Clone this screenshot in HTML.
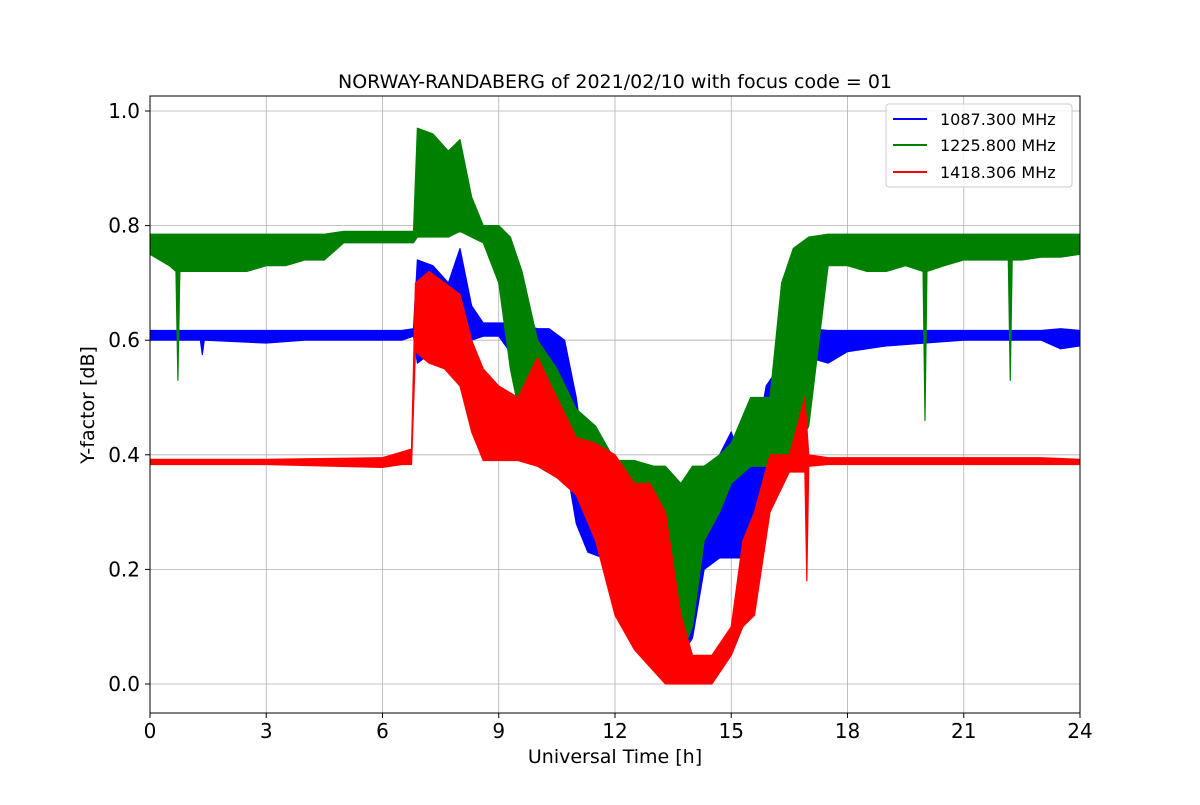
<!DOCTYPE html>
<html><head><meta charset="utf-8"><style>
body{margin:0;background:#fff;}
svg{font-family:"DejaVu Sans","Liberation Sans",sans-serif;}
</style></head><body>
<svg id="chart" width="1200" height="800" xmlns="http://www.w3.org/2000/svg">
<rect width="1200" height="800" fill="#fff"/>
<g id="grid"></g>
<g id="series" clip-path="url(#clip)"></g>
<defs><clipPath id="clip"><rect x="150" y="96" width="930" height="617"/></clipPath></defs>
<rect x="150" y="96" width="930" height="617" fill="none" stroke="#000" stroke-width="1"/>
<g id="ticks"></g>
<text x="615" y="88" text-anchor="middle" font-size="19">NORWAY-RANDABERG of 2021/02/10 with focus code = 01</text>
<text x="615" y="763" text-anchor="middle" font-size="19">Universal Time [h]</text>
<text transform="translate(94,405) rotate(-90)" text-anchor="middle" font-size="19">Y-factor [dB]</text>
<g>
<rect x="886" y="104" width="186" height="83" rx="3" fill="#fff" fill-opacity="0.8" stroke="#ccc"/>
<g><line x1="893" x2="927" y1="119" y2="119" stroke="#0000ff" stroke-width="2"/><text x="940" y="125" font-size="16">1087.300 MHz</text></g>
<g><line x1="893" x2="927" y1="145" y2="145" stroke="#008000" stroke-width="2"/><text x="940" y="151" font-size="16">1225.800 MHz</text></g>
<g><line x1="893" x2="927" y1="172" y2="172" stroke="#ff0000" stroke-width="2"/><text x="940" y="178" font-size="16">1418.306 MHz</text></g>
</g>
</svg>
<script>
const xTicks=[0,3,6,9,12,15,18,21,24];
const yTicks=[0.0,0.2,0.4,0.6,0.8,1.0];
const yTickLabels=["0.0","0.2","0.4","0.6","0.8","1.0"];
const blueT=[0,1.3,1.35,1.4,3,4,6.5,6.8,6.9,7.3,7.7,8,8.3,8.6,9,9.5,10,10.3,10.7,11,11.3,11.7,12,12.3,12.7,13,13.3,13.7,14,14.3,14.7,15,15.3,15.6,15.9,16.2,16.5,16.8,17,17.5,18,19,20,21,22,23,23.5,24];
const blueLo=[0.6,0.6,0.575,0.6,0.595,0.6,0.6,0.607,0.56,0.58,0.55,0.56,0.6,0.607,0.607,0.56,0.5,0.47,0.4,0.28,0.23,0.22,0.22,0.2,0.15,0.08,0.02,0.05,0.08,0.2,0.22,0.22,0.22,0.25,0.3,0.38,0.37,0.5,0.57,0.56,0.58,0.59,0.595,0.6,0.6,0.6,0.585,0.59];
const blueHi=[0.617,0.617,0.617,0.617,0.617,0.617,0.617,0.62,0.74,0.73,0.7,0.76,0.66,0.63,0.63,0.63,0.62,0.62,0.6,0.5,0.35,0.36,0.38,0.38,0.35,0.3,0.25,0.22,0.28,0.35,0.4,0.44,0.38,0.4,0.52,0.55,0.6,0.62,0.62,0.617,0.617,0.617,0.617,0.617,0.617,0.617,0.62,0.617];
const greenT=[0,0.5,0.67,0.72,0.77,1,1.5,2,2.5,3,3.5,4,4.5,5,5.5,6,6.5,6.8,6.9,7.3,7.7,8,8.3,8.6,9,9.3,9.6,10,10.5,11,11.5,12,12.5,13,13.3,13.7,14,14.3,14.7,15,15.5,16,16.3,16.6,17,17.5,18,18.5,19,19.5,19.95,20,20.05,20.5,21,21.5,22.15,22.2,22.25,22.5,23,23.5,24];
const greenLo=[0.75,0.73,0.72,0.53,0.72,0.72,0.72,0.72,0.72,0.73,0.73,0.74,0.74,0.77,0.77,0.77,0.77,0.77,0.78,0.78,0.78,0.79,0.78,0.77,0.7,0.55,0.45,0.4,0.38,0.38,0.3,0.22,0.15,0.1,0.05,0.05,0.1,0.25,0.3,0.35,0.38,0.38,0.4,0.4,0.45,0.73,0.73,0.72,0.72,0.73,0.72,0.46,0.72,0.73,0.74,0.74,0.74,0.53,0.74,0.74,0.745,0.745,0.75];
const greenHi=[0.785,0.785,0.785,0.785,0.785,0.785,0.785,0.785,0.785,0.785,0.785,0.785,0.785,0.79,0.79,0.79,0.79,0.79,0.97,0.96,0.93,0.95,0.85,0.8,0.8,0.78,0.72,0.6,0.55,0.48,0.45,0.39,0.39,0.38,0.38,0.35,0.38,0.38,0.4,0.42,0.5,0.5,0.7,0.76,0.78,0.785,0.785,0.785,0.785,0.785,0.785,0.785,0.785,0.785,0.785,0.785,0.785,0.785,0.785,0.785,0.785,0.785,0.785];
const redT=[0,3,6,6.5,6.75,6.85,7.2,7.6,8,8.3,8.6,9,9.5,10,10.5,11,11.5,12,12.5,12.9,13.3,13.7,14,14.5,15,15.3,15.6,16,16.5,16.9,16.95,17,17.5,18,19,20,21,22,23,24];
const redLo=[0.383,0.383,0.378,0.383,0.383,0.58,0.56,0.55,0.52,0.44,0.39,0.39,0.39,0.38,0.36,0.33,0.25,0.12,0.06,0.03,0.0,0.0,0.0,0.0,0.05,0.1,0.12,0.3,0.37,0.37,0.18,0.38,0.383,0.383,0.383,0.383,0.383,0.383,0.383,0.383];
const redHi=[0.392,0.392,0.395,0.405,0.41,0.7,0.72,0.7,0.68,0.6,0.55,0.52,0.5,0.57,0.5,0.43,0.42,0.4,0.35,0.35,0.3,0.12,0.05,0.05,0.1,0.25,0.3,0.4,0.4,0.5,0.45,0.4,0.395,0.395,0.395,0.395,0.395,0.395,0.395,0.392];

const X0=150,X1=1080,YZ=684,YPX=573;
function xs(t){return X0+(t/24)*(X1-X0);}
function ys(v){return YZ-v*YPX;}
const NS='http://www.w3.org/2000/svg';
const grid=document.getElementById('grid'),ticks=document.getElementById('ticks'),ser=document.getElementById('series');
function mk(tag,attrs,parent){const e=document.createElementNS(NS,tag);for(const k in attrs)e.setAttribute(k,attrs[k]);parent.appendChild(e);return e;}
xTicks.forEach(t=>{
  const g=mk('line',{x1:xs(t),x2:xs(t),y1:96,y2:713,stroke:'#b0b0b0','stroke-width':0.8},grid);
  
  
  mk('line',{x1:xs(t),x2:xs(t),y1:713,y2:718,stroke:'#000'},ticks);
  const tx=mk('text',{x:xs(t),y:738,'text-anchor':'middle','font-size':20},ticks);
  tx.textContent=t;
  
  
});
yTicks.forEach((v,i)=>{
  const g=mk('line',{x1:150,x2:1080,y1:ys(v),y2:ys(v),stroke:'#b0b0b0','stroke-width':0.8},grid);
  
  
  mk('line',{x1:145,x2:150,y1:ys(v),y2:ys(v),stroke:'#000'},ticks);
  const tx=mk('text',{x:140,y:ys(v)+7,'text-anchor':'end','font-size':20},ticks);
  tx.textContent=yTickLabels[i];
  
  
});
function band(T,lo,hi,color,name){
  let pts=[];
  for(let i=0;i<T.length;i++)pts.push(xs(T[i])+','+ys(hi[i]));
  for(let i=T.length-1;i>=0;i--)pts.push(xs(T[i])+','+ys(lo[i]));
  const p=mk('polygon',{points:pts.join(' '),fill:color,stroke:color,'stroke-width':1.2,'stroke-linejoin':'round'},ser);
  
  
}
band(blueT,blueLo,blueHi,'#0000ff','series-1087-mhz');
band(greenT,greenLo,greenHi,'#008000','series-1225-mhz');
band(redT,redLo,redHi,'#ff0000','series-1418-mhz');
</script>
</body></html>
